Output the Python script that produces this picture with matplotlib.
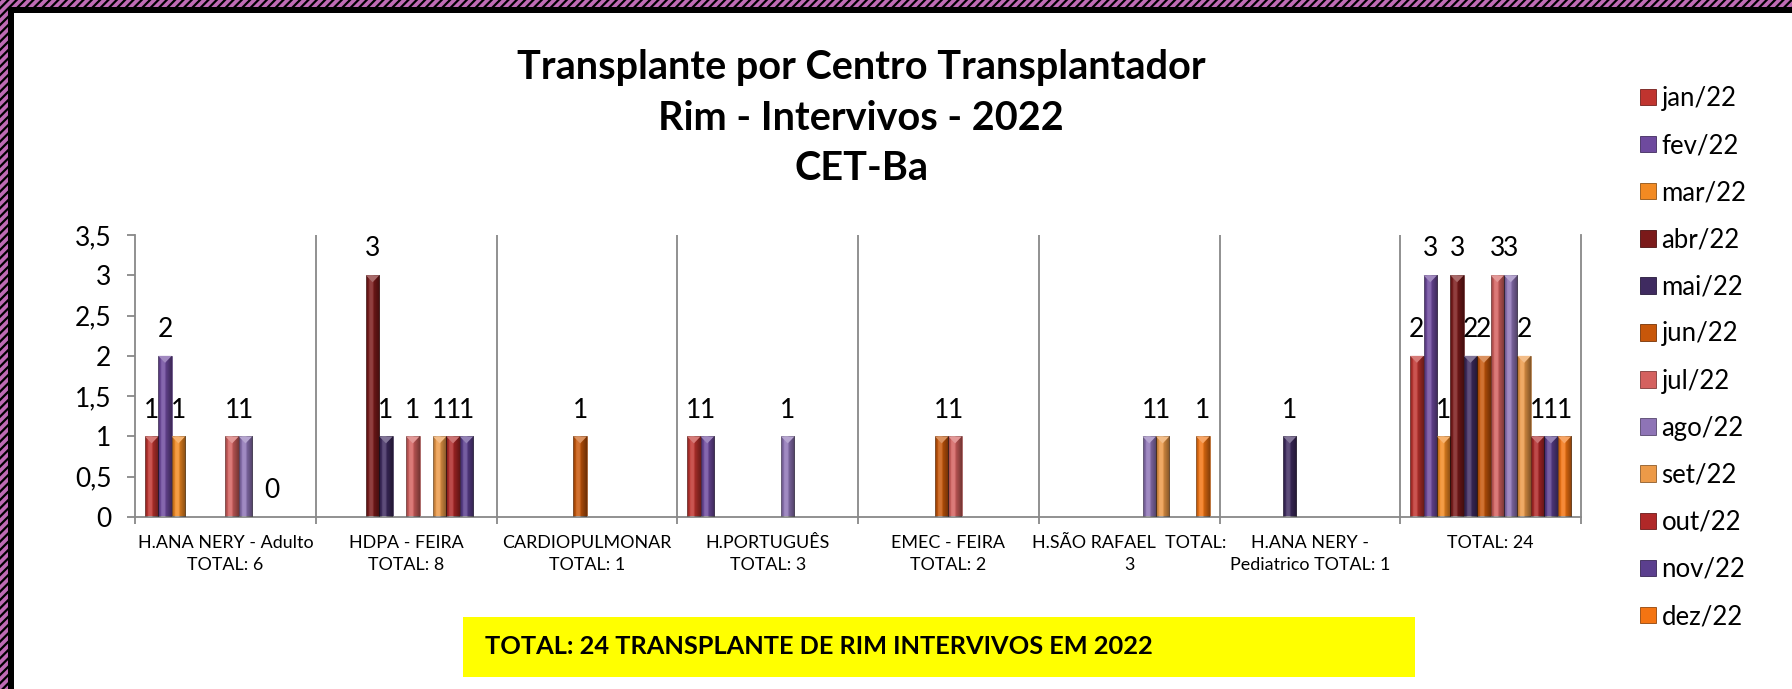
import numpy as np
import matplotlib
matplotlib.use("Agg")
import matplotlib.pyplot as plt
from matplotlib.patches import Rectangle, Polygon
from matplotlib.colors import to_rgb

nan = np.nan

# ---------------- data ----------------
categories = [
    "H.ANA NERY - Adulto\nTOTAL: 6",
    "HDPA - FEIRA\nTOTAL: 8",
    "CARDIOPULMONAR\nTOTAL: 1",
    "H.PORTUGUÊS\nTOTAL: 3",
    "EMEC - FEIRA\nTOTAL: 2",
    "H.SÃO RAFAEL  TOTAL:\n3",
    "H.ANA NERY -\nPediatrico TOTAL: 1",
    "TOTAL: 24",
]
months = ["jan/22", "fev/22", "mar/22", "abr/22", "mai/22", "jun/22",
          "jul/22", "ago/22", "set/22", "out/22", "nov/22", "dez/22"]

jan_22 = [1, nan, nan, 1, nan, nan, nan, 2]
fev_22 = [2, nan, nan, 1, nan, nan, nan, 3]
mar_22 = [1, nan, nan, nan, nan, nan, nan, 1]
abr_22 = [nan, 3, nan, nan, nan, nan, nan, 3]
mai_22 = [nan, 1, nan, nan, nan, nan, 1, 2]
jun_22 = [nan, nan, 1, nan, 1, nan, nan, 2]
jul_22 = [1, 1, nan, nan, 1, nan, nan, 3]
ago_22 = [1, nan, nan, 1, nan, 1, nan, 3]
set_22 = [nan, 1, nan, nan, nan, 1, nan, 2]
out_22 = [0, 1, nan, nan, nan, nan, nan, 1]
nov_22 = [nan, 1, nan, nan, nan, nan, nan, 1]
dez_22 = [nan, nan, nan, nan, nan, 1, nan, 1]

series = [jan_22, fev_22, mar_22, abr_22, mai_22, jun_22,
          jul_22, ago_22, set_22, out_22, nov_22, dez_22]

yticks = [0, 0.5, 1, 1.5, 2, 2.5, 3, 3.5]
ytick_labels = ["0", "0,5", "1", "1,5", "2", "2,5", "3", "3,5"]

title = "Transplante por Centro Transplantador\nRim - Intervivos - 2022\nCET-Ba"
banner = "TOTAL: 24 TRANSPLANTE DE RIM INTERVIVOS EM 2022"

# ---------------- style ----------------
colors = ["#C0342F", "#6E4A9E", "#F28A22", "#7B1A1A", "#3F2B60", "#C8570A",
          "#D4615F", "#8E74B6", "#EC9A48", "#B02828", "#5B3F8E", "#F47412"]
FONT = "Lato"
plt.rcParams["font.family"] = [FONT, "DejaVu Sans"]
plt.rcParams["hatch.linewidth"] = 1.6
GRAY = "#888888"

W, H = 1792, 689
fig = plt.figure(figsize=(W / 100, H / 100), dpi=100)
fig.patch.set_facecolor("white")

# frame border (hatched pink + black)
pink = "#BF6BB5"
fig.patches.append(Rectangle((0, 1 - 7 / H), 1, 7 / H, transform=fig.transFigure,
                             facecolor=pink, edgecolor="black", hatch="////",
                             linewidth=0, zorder=0))
fig.patches.append(Rectangle((0, 0), 8 / W, 1, transform=fig.transFigure,
                             facecolor=pink, edgecolor="black", hatch="////",
                             linewidth=0, zorder=0))
fig.patches.append(Rectangle((8 / W, 1 - 12.5 / H), 1 - 8 / W, 5.5 / H, transform=fig.transFigure,
                             facecolor="black", linewidth=0, zorder=0))
fig.patches.append(Rectangle((8 / W, 0), 6 / W, 1 - 7 / H, transform=fig.transFigure,
                             facecolor="black", linewidth=0, zorder=0))

ax = fig.add_axes([135 / W, 1 - 517 / H, (1581 - 135) / W, (517 - 235) / H])
ncat = len(categories)
nser = len(series)
x = np.arange(ncat)
w = 0.0742

data_per_px = 3.5 / (517 - 235)


def shade_overlay(patch):
    x0, y0 = patch.get_x(), patch.get_y()
    bw, bh = patch.get_width(), patch.get_height()
    if not np.isfinite(bh) or bh <= 0:
        return
    n = 64
    t = np.linspace(0, 1, n)
    rgba = np.zeros((1, n, 4))
    for i, tt in enumerate(t):
        if tt < 0.35:
            f = tt / 0.35
            a_dark = 0.25 * (1 - f)
            a_light = 0.18 * f
        else:
            f = (tt - 0.35) / 0.65
            a_dark = 0.45 * f
            a_light = 0.18 * (1 - f)
        if a_dark >= a_light:
            rgba[0, i, :3] = 0.0
            rgba[0, i, 3] = a_dark
        else:
            rgba[0, i, :3] = 1.0
            rgba[0, i, 3] = a_light
    im = ax.imshow(rgba, extent=(x0, x0 + bw, y0, y0 + bh), aspect="auto",
                   interpolation="bilinear", zorder=3)
    im.set_clip_path(patch)
    # bevel triangle at top
    fc = np.array(to_rgb(patch.get_facecolor()))
    light = fc + (1 - fc) * 0.35
    th = 7 * data_per_px
    tri = Polygon([[x0, y0 + bh], [x0 + bw, y0 + bh], [x0 + bw / 2, y0 + bh - th]],
                  closed=True, facecolor=light, edgecolor="none", zorder=4)
    ax.add_patch(tri)


for j, (vals, col) in enumerate(zip(series, colors)):
    vals = np.array(vals, dtype=float)
    edge = np.array(to_rgb(col)) * 0.6
    cont = ax.bar(x + (j - (nser - 1) / 2) * w, vals, w, color=col,
                  edgecolor=edge, linewidth=0.4, zorder=2, label=months[j])
    for p in cont.patches:
        shade_overlay(p)
    labels = ["" if np.isnan(v) else f"{v:g}" for v in vals]
    ax.bar_label(cont, labels=labels, padding=10, fontsize=19, color="black")

ax.set_xlim(-0.5, ncat - 0.5)
ax.set_ylim(0, 3.5)

# separators between categories
for b in np.arange(0.5, ncat - 0.5, 1.0):
    ax.axvline(b, color=GRAY, linewidth=1.3, zorder=1)

ax.spines["top"].set_visible(False)
for s in ["left", "bottom", "right"]:
    ax.spines[s].set_color(GRAY)
    ax.spines[s].set_linewidth(1.3)

ax.set_yticks(yticks)
ax.set_yticklabels(ytick_labels, fontsize=19)
ax.tick_params(axis="y", direction="out", length=6, width=1.3, color=GRAY, pad=11)

ax.set_xticks(x)
ax.set_xticklabels(categories, fontsize=12.9, linespacing=1.45)
ax.set_xticks(np.arange(-0.5, ncat, 1.0), minor=True)
ax.tick_params(axis="x", which="major", length=0, pad=13)
ax.tick_params(axis="x", which="minor", direction="out", length=5, width=1.3, color=GRAY)

# title
fig.text(861 / W, 1 - 118 / H, title, ha="center", va="center", fontsize=28.5,
         fontweight="bold", linespacing=1.46)

# legend
leg_handles = [Rectangle((0, 0), 1, 1, facecolor=c, edgecolor=np.array(to_rgb(c)) * 0.6,
                         linewidth=0.6) for c in colors]
fig.legend(leg_handles, months, loc="upper left",
           bbox_to_anchor=(1640 / W, 1 - 86 / H), frameon=False, fontsize=18.5,
           handlelength=0.62, handleheight=0.62, handletextpad=0.22,
           labelspacing=0.86, borderpad=0, borderaxespad=0)

# yellow banner
fig.patches.append(Rectangle((463 / W, 1 - 677 / H), (1415 - 463) / W, 60 / H,
                             transform=fig.transFigure, facecolor="#FFFF00",
                             edgecolor="none", zorder=0))
fig.text(485 / W, 1 - 647 / H, banner, ha="left", va="center", fontsize=18.3,
         fontweight="bold")

fig.savefig("out.png", dpi=100, facecolor="white")
